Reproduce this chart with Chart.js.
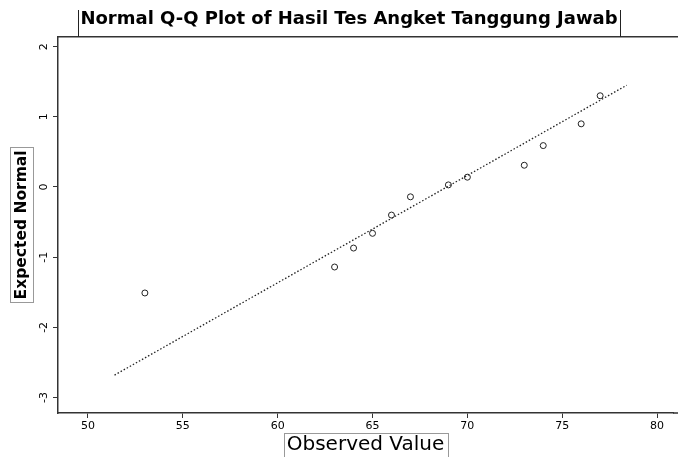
<!DOCTYPE html>
<html><head><meta charset="utf-8">
<script src="https://cdn.jsdelivr.net/npm/chart.js@4"></script>
<style>html,body{margin:0;padding:0;background:#fff;overflow:hidden}</style>
</head><body>
<canvas id="c" width="678" height="457"></canvas>
<script>
const chartTitle = 'Normal Q-Q Plot of Hasil Tes Angket Tanggung Jawab';
const xAxisTitle = 'Observed Value';
const yAxisTitle = 'Expected Normal';
const observedValues = [53, 63, 64, 65, 66, 67, 69, 70, 73, 74, 76, 77];
const expectedNormal = [-1.51, -1.14, -0.87, -0.66, -0.40, -0.14, 0.03, 0.14, 0.31, 0.59, 0.90, 1.30];
const lineObserved = [51.4, 78.4];
const lineExpected = [-2.68, 1.45];
const xTickValues = [50, 55, 60, 65, 70, 75, 80];
const yTickValues = [2, 1, 0, -1, -2, -3];

const FONT = "'DejaVu Sans', 'Liberation Sans', sans-serif";
const TITLE_SIZE = 18;
const XT_SIZE = 20;
const YT_SIZE = 15.5;
const TITLE_SHIFT = 10;

const framePlugin = {
  id: 'frame',
  afterLayout(chart) {
    if (chart.titleBlock) {
      chart.titleBlock.left += TITLE_SHIFT;
      chart.titleBlock.right += TITLE_SHIFT;
    }
  },
  afterDraw(chart) {
    const ctx = chart.ctx;
    const a = chart.chartArea;
    ctx.save();
    ctx.strokeStyle = '#333';
    ctx.lineWidth = 1.5;
    ctx.beginPath();
    ctx.moveTo(a.left, a.top);
    ctx.lineTo(chart.width, a.top);
    ctx.moveTo(a.right, a.bottom);
    ctx.lineTo(chart.width, a.bottom);
    ctx.stroke();
    // title frame
    ctx.font = 'bold ' + TITLE_SIZE + 'px ' + FONT;
    const tw = ctx.measureText(chartTitle).width;
    const cx = chart.width / 2 + TITLE_SHIFT;
    ctx.lineWidth = 1;
    ctx.strokeStyle = '#222';
    ctx.beginPath();
    ctx.moveTo(Math.round(cx - tw / 2 - 2) + 0.5, 10); ctx.lineTo(Math.round(cx - tw / 2 - 2) + 0.5, a.top);
    ctx.moveTo(Math.round(cx + tw / 2 + 2) + 0.5, 10); ctx.lineTo(Math.round(cx + tw / 2 + 2) + 0.5, a.top);
    ctx.stroke();
    // x axis title frame
    ctx.font = XT_SIZE + 'px ' + FONT;
    const xw = ctx.measureText(xAxisTitle).width;
    const xc = (a.left + a.right) / 2;
    ctx.strokeStyle = '#999';
    ctx.strokeRect(Math.round(xc - xw / 2 - 3) + 0.5, 433.5, Math.round(xw + 6), 30);
    // y axis title frame
    ctx.font = 'bold ' + YT_SIZE + 'px ' + FONT;
    const yw = ctx.measureText(yAxisTitle).width;
    const yc = (a.top + a.bottom) / 2;
    ctx.strokeRect(10.5, Math.round(yc - yw / 2 - 3) + 0.5, 23, Math.round(yw + 6));
    ctx.restore();
  }
};

new Chart(document.getElementById('c'), {
  type: 'scatter',
  data: {
    datasets: [
      {
        label: 'Observed',
        data: observedValues.map((v, i) => ({ x: v, y: expectedNormal[i] })),
        showLine: false,
        pointStyle: 'circle',
        pointRadius: 3,
        pointBorderWidth: 1,
        pointBorderColor: '#222',
        pointBackgroundColor: 'rgba(0,0,0,0)'
      },
      {
        label: 'Normal line',
        data: lineObserved.map((v, i) => ({ x: v, y: lineExpected[i] })),
        showLine: true,
        pointRadius: 0,
        borderColor: '#222',
        borderWidth: 1.3,
        borderDash: [1.5, 2]
      }
    ]
  },
  options: {
    responsive: false,
    devicePixelRatio: 1,
    animation: false,
    layout: { padding: 0 },
    plugins: {
      legend: { display: false },
      tooltip: { enabled: false },
      title: {
        display: true,
        text: chartTitle,
        color: '#000',
        font: { family: FONT, size: TITLE_SIZE, weight: 'bold', lineHeight: 1.1 },
        padding: { top: 9, bottom: 8 }
      }
    },
    scales: {
      x: {
        type: 'linear',
        min: 48.42,
        max: 80.84,
        afterBuildTicks: s => { s.ticks = xTickValues.map(v => ({ value: v })); },
        afterFit: s => { s.height = 44; s.paddingLeft = 0; s.paddingRight = 0; },
        ticks: { color: '#000', font: { family: FONT, size: 11 }, padding: 2 },
        grid: { drawOnChartArea: false, drawTicks: true, tickLength: 5, color: '#333' },
        border: { color: '#333', width: 1.5 },
        title: { display: true, text: xAxisTitle, color: '#000', font: { family: FONT, size: XT_SIZE }, padding: { top: 0, bottom: 0 } }
      },
      y: {
        type: 'linear',
        min: -3.22,
        max: 2.14,
        afterBuildTicks: s => { s.ticks = yTickValues.map(v => ({ value: v })); },
        afterFit: s => { s.width = 58; s.paddingTop = 0; s.paddingBottom = 0; },
        ticks: { color: '#000', font: { family: FONT, size: 11 }, padding: 3, minRotation: 90, maxRotation: 90, crossAlign: 'center' },
        grid: { drawOnChartArea: false, drawTicks: true, tickLength: 5, color: '#333' },
        border: { color: '#333', width: 1.5 },
        title: { display: true, text: yAxisTitle, color: '#000', font: { family: FONT, size: YT_SIZE, weight: 'bold' }, padding: { top: 13, bottom: 0 } }
      }
    }
  },
  plugins: [framePlugin]
});
</script>
</body></html>
